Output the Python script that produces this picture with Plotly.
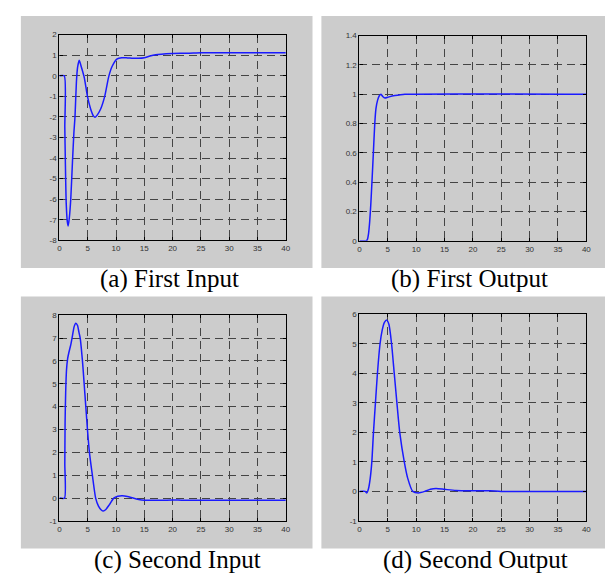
import plotly.graph_objects as go

W, H = 613, 577

# ---------------- data ----------------
t_a = [0, 0.85, 0.95, 1.05, 1.2, 1.4, 1.55, 1.75, 2.0, 2.3, 2.55, 2.75, 3.0, 3.2, 3.5, 3.9, 4.4, 4.95, 5.5, 6.0, 6.3, 6.7, 7.3, 8.0, 8.7, 9.3, 10.2, 11.0, 12.0, 13.0, 14.0, 15.0, 16.0, 17.0, 18.0, 20.0, 23.0, 25.0, 30.0, 40.0]
y_a = [0, 0, -2.5, -4.2, -6.2, -7.1, -7.3, -6.9, -6.0, -4.2, -2.8, -2.0, -0.3, 0.4, 0.75, 0.4, -0.1, -1.0, -1.6, -1.95, -2.02, -1.9, -1.6, -1.0, -0.05, 0.45, 0.82, 0.88, 0.87, 0.85, 0.85, 0.88, 0.96, 1.02, 1.05, 1.08, 1.1, 1.12, 1.12, 1.12]

t_b = [0, 1.2, 1.4, 1.6, 1.8, 2.0, 2.2, 2.45, 2.7, 2.9, 3.2, 3.5, 3.8, 4.1, 4.5, 5.0, 6.0, 7.0, 8.0, 40.0]
y_b = [0, 0, 0.01, 0.05, 0.13, 0.25, 0.4, 0.6, 0.8, 0.9, 0.96, 0.99, 1.0, 0.985, 0.975, 0.98, 0.99, 0.995, 1.0, 1.0]

t_c = [0, 0.9, 0.95, 1.0, 1.1, 1.25, 1.45, 1.7, 2.0, 2.3, 2.6, 2.9, 3.2, 3.45, 3.67, 4.07, 4.37, 4.66, 4.95, 5.3, 5.82, 6.4, 6.9, 7.4, 7.75, 8.2, 8.8, 9.6, 10.3, 11.1, 12.0, 13.0, 14.0, 15.0, 17.0, 20.0, 22.0, 40.0]
y_c = [0, 0, 1.5, 3.3, 4.6, 5.6, 6.1, 6.4, 6.7, 7.1, 7.5, 7.65, 7.55, 7.25, 7.0, 6.0, 5.0, 4.0, 3.0, 2.0, 1.0, 0.0, -0.35, -0.52, -0.57, -0.5, -0.3, 0.0, 0.08, 0.1, 0.07, 0.0, -0.06, -0.09, -0.1, -0.08, -0.1, -0.1]

t_d = [0, 1.0, 1.3, 1.6, 1.9, 2.18, 2.47, 2.82, 3.17, 3.63, 4.0, 4.4, 4.8, 5.2, 5.66, 6.13, 6.6, 7.1, 7.9, 8.5, 9.4, 10.4, 11.5, 12.5, 13.5, 15.0, 17.0, 20.0, 23.0, 25.0, 40.0]
y_d = [0, 0, -0.05, 0.1, 0.45, 1.0, 2.0, 3.0, 4.0, 5.0, 5.45, 5.72, 5.8, 5.65, 5.0, 4.0, 3.0, 2.0, 1.0, 0.45, 0.0, -0.05, 0.0, 0.07, 0.1, 0.07, 0.03, 0.02, 0.02, 0.0, 0.0]

x_ticks = [0, 5, 10, 15, 20, 25, 30, 35, 40]
y_ticks_a = [-8, -7, -6, -5, -4, -3, -2, -1, 0, 1, 2]
y_ticks_b = [0, 0.2, 0.4, 0.6, 0.8, 1.0, 1.2, 1.4]
y_ticks_c = [-1, 0, 1, 2, 3, 4, 5, 6, 7, 8]
y_ticks_d = [-1, 0, 1, 2, 3, 4, 5, 6]
y_labels_b = ["0", "0.2", "0.4", "0.6", "0.8", "1", "1.2", "1.4"]

captions = ["(a) First Input", "(b) First Output", "(c) Second Input", "(d) Second Output"]

# ---------------- layout helpers ----------------
def px_x(p):
    return p / W

def px_y(p):
    return 1 - p / H

panels = [
    dict(t=t_a, y=y_a, yt=y_ticks_a, yl=[str(v) for v in y_ticks_a], yr=[-8, 2],
         plot=(50, 23, 279, 232), grey=(11, 4, 306, 260), cap=(161, 271)),
    dict(t=t_b, y=y_b, yt=y_ticks_b, yl=y_labels_b, yr=[0, 1.4],
         plot=(353.5, 24, 583, 232.5), grey=(315, 4, 609, 260), cap=(465, 271)),
    dict(t=t_c, y=y_c, yt=y_ticks_c, yl=[str(v) for v in y_ticks_c], yr=[-1, 8],
         plot=(50, 308, 279, 517), grey=(11, 289, 306, 545), cap=(169, 557)),
    dict(t=t_d, y=y_d, yt=y_ticks_d, yl=[str(v) for v in y_ticks_d], yr=[-1, 6],
         plot=(353.5, 307, 583, 517), grey=(315, 289, 609, 545), cap=(471, 557)),
]

fig = go.Figure()
shapes = []
annotations = []
layout = dict(
    width=W, height=H,
    margin=dict(l=0, r=0, t=0, b=0),
    paper_bgcolor="white",
    plot_bgcolor="white",
    showlegend=False,
)

for i, p in enumerate(panels):
    k = "" if i == 0 else str(i + 1)
    xa, ya = "x" + k, "y" + k
    fig.add_trace(go.Scatter(
        x=p["t"], y=p["y"], mode="lines",
        line=dict(color="#1a1aff", width=1.5, shape="spline", smoothing=0.6),
        xaxis=xa, yaxis=ya, hoverinfo="skip",
    ))
    x0, y0, x1, y1 = p["plot"]
    axis_common = dict(
        showgrid=True, gridcolor="#444444", gridwidth=1.4, griddash="8px,5px",
        showline=True, linecolor="black", linewidth=1.2, mirror="ticks",
        ticks="inside", ticklen=3, tickcolor="black",
        tickfont=dict(family="Liberation Sans, Arial", size=8, color="#333333"),
        zeroline=False, fixedrange=True,
    )
    layout["xaxis" + k] = dict(
        axis_common,
        domain=[px_x(x0), px_x(x1)], anchor=ya, range=[0, 40],
        tickvals=x_ticks, ticktext=[str(v) for v in x_ticks],
    )
    layout["yaxis" + k] = dict(
        axis_common,
        domain=[px_y(y1), px_y(y0)], anchor=xa, range=p["yr"],
        tickvals=p["yt"], ticktext=p["yl"],
    )
    gx0, gy0, gx1, gy1 = p["grey"]
    shapes.append(dict(type="rect", xref="paper", yref="paper",
                       x0=px_x(gx0), x1=px_x(gx1), y0=px_y(gy1), y1=px_y(gy0),
                       fillcolor="#cccccc", line=dict(width=0), layer="below"))
    cx, cy = p["cap"]
    annotations.append(dict(
        text=captions[i], xref="paper", yref="paper",
        x=px_x(cx), y=px_y(cy),
        xanchor="center", yanchor="middle", showarrow=False,
        font=dict(family="Liberation Serif, Times New Roman", size=25, color="black"),
    ))

layout["shapes"] = shapes
layout["annotations"] = annotations
fig.update_layout(**layout)
fig.write_html("out.html")
